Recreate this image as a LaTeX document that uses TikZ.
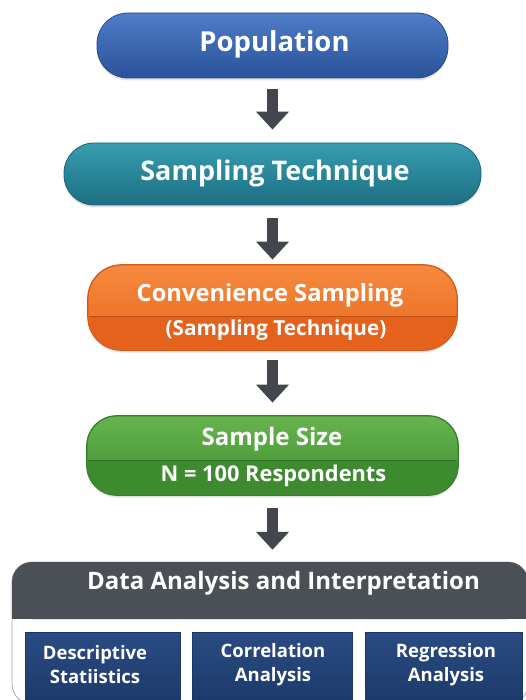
\documentclass[tikz,border=0pt]{standalone}
\usepackage{fontspec}
\setmainfont{Open Sans}
\usetikzlibrary{shadows,arrows.meta}
\definecolor{popT}{HTML}{4F7DC8}
\definecolor{popB}{HTML}{2A5299}
\definecolor{popD}{HTML}{254B8C}
\definecolor{tecT}{HTML}{379DB0}
\definecolor{tecB}{HTML}{1C6E82}
\definecolor{tecD}{HTML}{1A6577}
\definecolor{orT}{HTML}{F68A3E}
\definecolor{orB}{HTML}{E8691F}
\definecolor{orL}{HTML}{E5621C}
\definecolor{orD}{HTML}{D2581A}
\definecolor{grT}{HTML}{66B34E}
\definecolor{grB}{HTML}{3F8E30}
\definecolor{grL}{HTML}{3E8A2F}
\definecolor{grD}{HTML}{377E2A}
\definecolor{hdr}{HTML}{4B4F56}
\definecolor{navT}{HTML}{2A4C84}
\definecolor{navB}{HTML}{1B3766}
\definecolor{arr}{HTML}{43474D}
\tikzset{
  box/.style={draw, line width=0.8pt, rectangle, inner sep=0pt,
    drop shadow={opacity=0.22, shadow xshift=0pt, shadow yshift=-2.5pt}},
  txt/.style={text=white, font=\bfseries, inner sep=0pt, anchor=center},
  bigarrow/.style={draw=arr, line width=10.5pt, -{Triangle[width=32pt,length=18pt]}},
  subbox/.style={rectangle, inner sep=0pt, top color=navT, bottom color=navB, draw=navB, line width=0.6pt}
}
\begin{document}
\begin{tikzpicture}[x=1pt,y=-1pt]
\useasboundingbox (0,0) rectangle (526,700);
% Population
\node[box, draw=popD, top color=popT, bottom color=popB, rounded corners=31pt,
  minimum width=351pt, minimum height=65pt] (pop) at (272.5,45.5) {};
\node[txt, font=\bfseries\fontsize{27.5}{30}\selectfont] (popt) at (274.5,44) {Population};
% Sampling technique
\node[box, draw=tecD, top color=tecT, bottom color=tecB, rounded corners=30pt,
  minimum width=417pt, minimum height=62pt] (tec) at (272.5,174) {};
\node[txt, font=\bfseries\fontsize{27}{30}\selectfont] (tect) at (275,173) {Sampling Technique};
% Convenience
\node[box, draw=orD, top color=orT, bottom color=orB, rounded corners=34pt,
  minimum width=369pt, minimum height=85pt] (conv) at (272.5,307.5) {};
\begin{scope}
  \clip[rounded corners=34pt] (conv.north west) rectangle (conv.south east);
  \fill[orL] (conv.west |- 0,316) rectangle (conv.south east);
\end{scope}
\draw[orD!90!black, line width=0.6pt] ([xshift=2pt]conv.west |- 0,316) coordinate (cdl) -- ([xshift=-2pt]conv.east |- 0,316) coordinate (cdr);
\draw[orD, line width=0.8pt, rounded corners=34pt] (conv.north west) rectangle (conv.south east);
\node[txt, font=\bfseries\fontsize{23.7}{26}\selectfont] (convt) at (270,295) {Convenience Sampling};
\node[txt, font=\bfseries\fontsize{20.7}{23}\selectfont] (convs) at (276,330) {(Sampling Technique)};
% Sample size
\node[box, draw=grD, top color=grT, bottom color=grB, rounded corners=30pt,
  minimum width=371pt, minimum height=79pt] (size) at (272.5,455.5) {};
\begin{scope}
  \clip[rounded corners=30pt] (size.north west) rectangle (size.south east);
  \fill[grL] (size.west |- 0,460) rectangle (size.south east);
\end{scope}
\draw[grD!90!black, line width=0.6pt] ([xshift=2pt]size.west |- 0,460) coordinate (sdl) -- ([xshift=-2pt]size.east |- 0,460) coordinate (sdr);
\draw[grD, line width=0.8pt, rounded corners=30pt] (size.north west) rectangle (size.south east);
\node[txt, font=\bfseries\fontsize{24}{26}\selectfont] (sizet) at (272,439) {Sample Size};
\node[txt, font=\bfseries\fontsize{21.8}{24}\selectfont] (sizes) at (273.5,476) {N = 100 Respondents};
% Container
\coordinate (ctl) at (12,562);
\coordinate (cbr) at (528,704);
\fill[white, draw=gray!70, line width=0.8pt, rounded corners=20pt] (ctl) rectangle (cbr);
\fill[hdr, rounded corners=20pt] (12,562) -- (528,562) -- (528,619) -- (12,619) -- cycle;
\fill[hdr] (12,600) rectangle (528,619);
\node[inner sep=0pt, minimum width=516pt, minimum height=57pt] (hdrbox) at (270,590.5) {};
\node[txt, font=\bfseries\fontsize{24}{26}\selectfont] (hdrt) at (283.5,583) {Data Analysis and Interpretation};
% Sub boxes
\node[subbox, minimum width=155pt, minimum height=80pt] (desc) at (102.5,672) {};
\node[subbox, minimum width=160pt, minimum height=80pt] (corr) at (272,672) {};
\node[subbox, minimum width=157pt, minimum height=80pt] (regr) at (443.5,672) {};
\node[txt, font=\bfseries\fontsize{18.5}{24}\selectfont, align=center] (desct) at (95,665) {Descriptive\\Statiistics};
\node[txt, font=\bfseries\fontsize{18.5}{24}\selectfont, align=center] (corrt) at (273,665) {Correlation\\Analysis};
\node[txt, font=\bfseries\fontsize{18.5}{24}\selectfont, align=center] (regrt) at (446,665) {Regression\\Analysis};
% Arrows
\draw[bigarrow, shorten <=10.5pt, shorten >=13pt] (pop.south) -- (tec.north);
\draw[bigarrow, shorten <=13pt, shorten >=5pt] (tec.south) -- (conv.north);
\draw[bigarrow, shorten <=10pt, shorten >=13pt] (conv.south) -- (size.north);
\draw[bigarrow, shorten <=13pt, shorten >=12pt] (size.south) -- (hdrbox.north -| size.south);
\end{tikzpicture}
\end{document}
